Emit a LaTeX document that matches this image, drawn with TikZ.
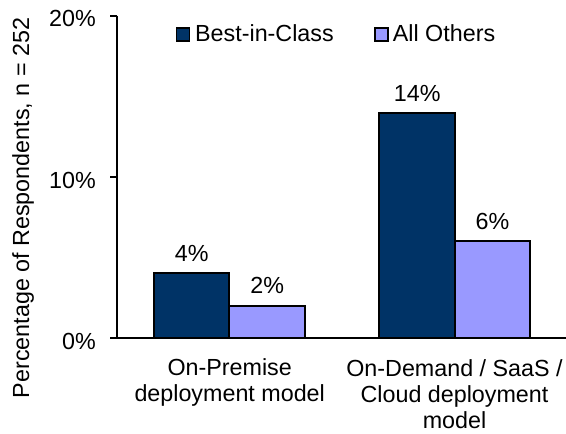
\documentclass[tikz,border=0pt]{standalone}
\usepackage{fontspec}
\setmainfont{Liberation Sans}
\definecolor{bestblue}{HTML}{003366}
\definecolor{otherblue}{HTML}{9999FF}
\begin{document}
\begin{tikzpicture}[x=1pt,y=-1pt,
  lbl/.style={inner sep=0pt, font=\fontsize{23.3}{26}\selectfont},
  axisline/.style={line width=2pt, draw=black},
  bestbar/.style={draw=black, line width=2pt, fill=bestblue},
  otherbar/.style={draw=black, line width=2pt, fill=otherblue},
  keybox/.style={draw=black, line width=1.5pt, minimum size=13pt, inner sep=0pt}]
\useasboundingbox (0,0) rectangle (566,434);

% axes
\coordinate (ytop) at (117,15.7);
\coordinate (origin) at (117,338.3);
\coordinate (xleft) at (110,338.3);
\coordinate (xright) at (566,338.3);
\draw[axisline] (ytop) -- (origin);
\draw[axisline] (xleft) -- (xright);
\foreach \yy/\tx in {15.7/20\%, 177/10\%, 338.3/0\%}{
  \draw[axisline] (110,\yy) -- (117,\yy);
  \node[lbl, anchor=base east] at (96,\yy+11) {\tx};
}

% axis title
\node[lbl, rotate=90, anchor=base] (ylab) at (29,208) {Percentage of Respondents, n = 252};

% bars
\draw[bestbar]  (154.3,338.3) rectangle (229.3,273.3);
\draw[otherbar] (229.3,338.3) rectangle (305,306);
\draw[bestbar]  (379.3,338.3) rectangle (455,112.7);
\draw[otherbar] (455,338.3) rectangle (530,241);

% value labels
\node[lbl, anchor=base] (v1) at (191.8,261.5) {4\%};
\node[lbl, anchor=base] (v2) at (267.2,293.5) {2\%};
\node[lbl, anchor=base] (v3) at (417.2,101.5) {14\%};
\node[lbl, anchor=base] (v4) at (492.5,229) {6\%};

% category labels
\node[lbl, anchor=base] (c1a) at (229.7,375.7) {On-Premise};
\node[lbl, anchor=base] (c1b) at (229.7,401) {deployment model};
\node[lbl, anchor=base] (c2a) at (454.5,376) {On-Demand / SaaS /};
\node[lbl, anchor=base] (c2b) at (454.5,402) {Cloud deployment};
\node[lbl, anchor=base] (c2c) at (454.5,428) {model};

% legend
\node[keybox, fill=bestblue] (k1) at (183,34.3) {};
\node[lbl, anchor=base west] (k1t) at (195,41.7) {Best-in-Class};
\node[keybox, fill=otherblue] (k2) at (381.3,34.3) {};
\node[lbl, anchor=base west] (k2t) at (392.7,41.7) {All Others};
\end{tikzpicture}
\end{document}
